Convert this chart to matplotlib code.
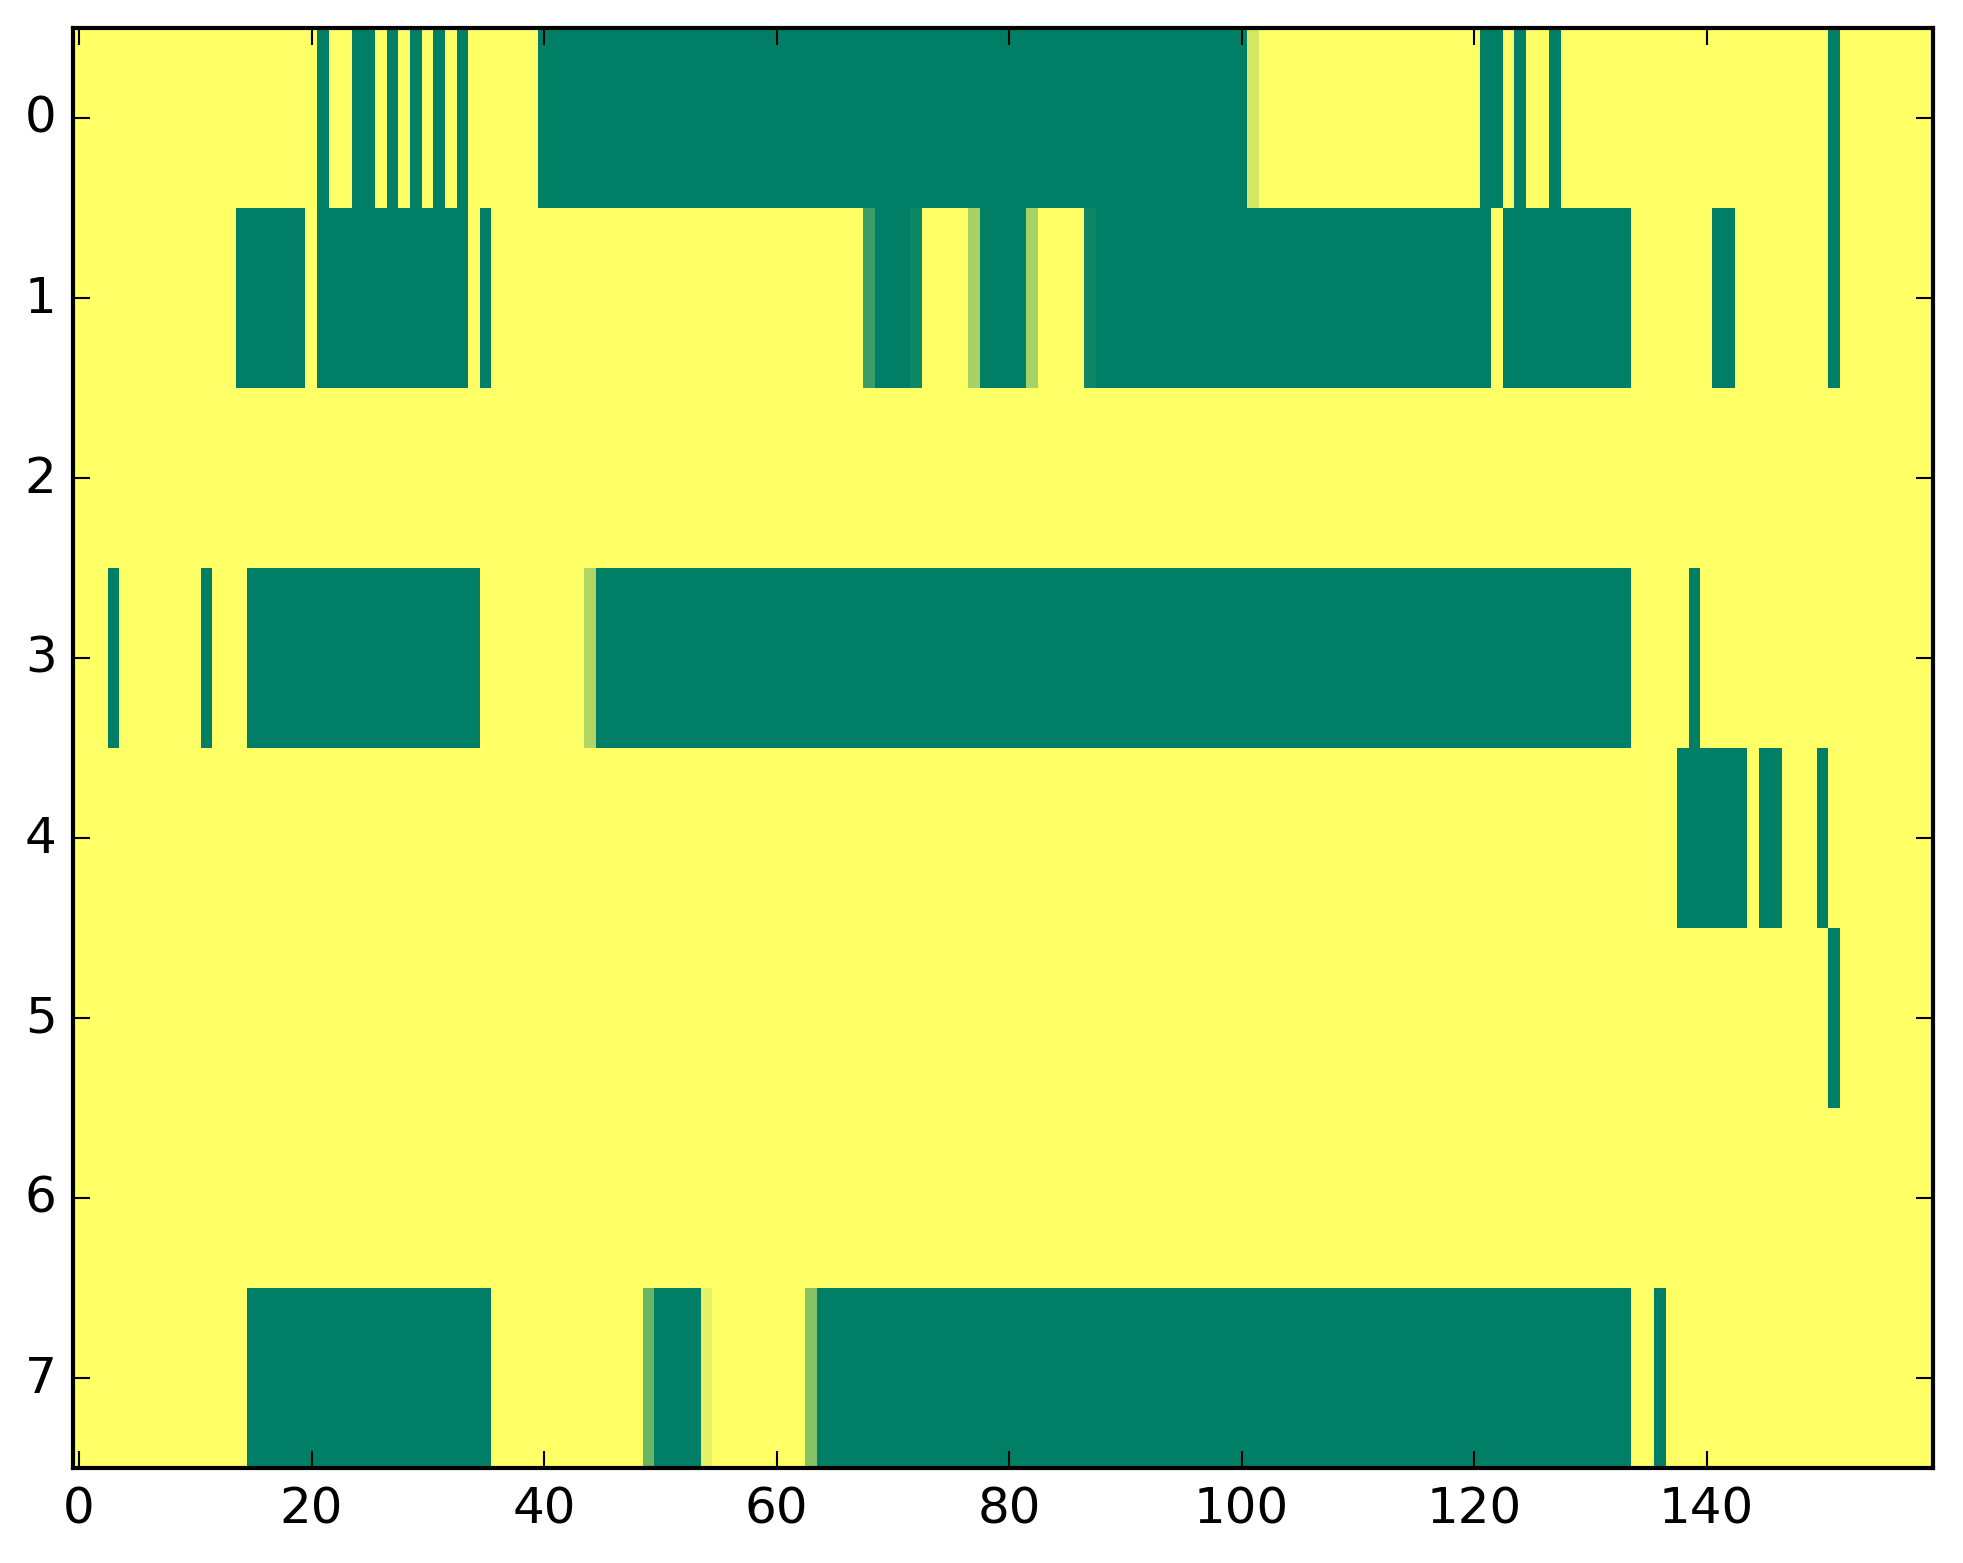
import numpy as np
import matplotlib
matplotlib.use('Agg')
import matplotlib.pyplot as plt

plt.style.use('classic')

# grid size
n_rows = 8
n_cols = 160

# green (value 0) column spans per row, inclusive
row0_zero = [(21, 21), (24, 25), (27, 27), (29, 29), (31, 31), (33, 33),
             (40, 100), (121, 122), (124, 124), (127, 127), (151, 151)]
row1_zero = [(14, 19), (21, 33), (35, 35), (69, 71), (78, 81), (88, 121),
             (123, 133), (141, 142), (151, 151)]
row2_zero = []
row3_zero = [(3, 3), (11, 11), (15, 34), (45, 133), (139, 139)]
row4_zero = [(138, 143), (145, 146), (150, 150)]
row5_zero = [(151, 151)]
row6_zero = []
row7_zero = [(15, 35), (50, 53), (64, 133), (136, 136)]

# in-between values
row0_mid = {101: 0.83}
row1_mid = {68: 0.24, 72: 0.06, 77: 0.65, 82: 0.65, 87: 0.06}
row3_mid = {44: 0.69}
row7_mid = {49: 0.42, 54: 0.90, 63: 0.53}

zero_spans = [row0_zero, row1_zero, row2_zero, row3_zero,
              row4_zero, row5_zero, row6_zero, row7_zero]
mid_vals = {0: row0_mid, 1: row1_mid, 3: row3_mid, 7: row7_mid}

data = np.ones((n_rows, n_cols))
for r, spans in enumerate(zero_spans):
    for a, b in spans:
        data[r, a:b + 1] = 0.0
for r, vals in mid_vals.items():
    for c, v in vals.items():
        data[r, c] = v

# 1963x1564 px at 300 dpi, axes placed to match the reference margins
fig = plt.figure(figsize=(1963 / 300, 1564 / 300))
ax = fig.add_axes([73.2 / 1963, 95.3 / 1564, 1860 / 1963, 1440 / 1564])
ax.imshow(data, cmap='summer', aspect='auto', interpolation='nearest')

plt.savefig('out.png', dpi=300)
